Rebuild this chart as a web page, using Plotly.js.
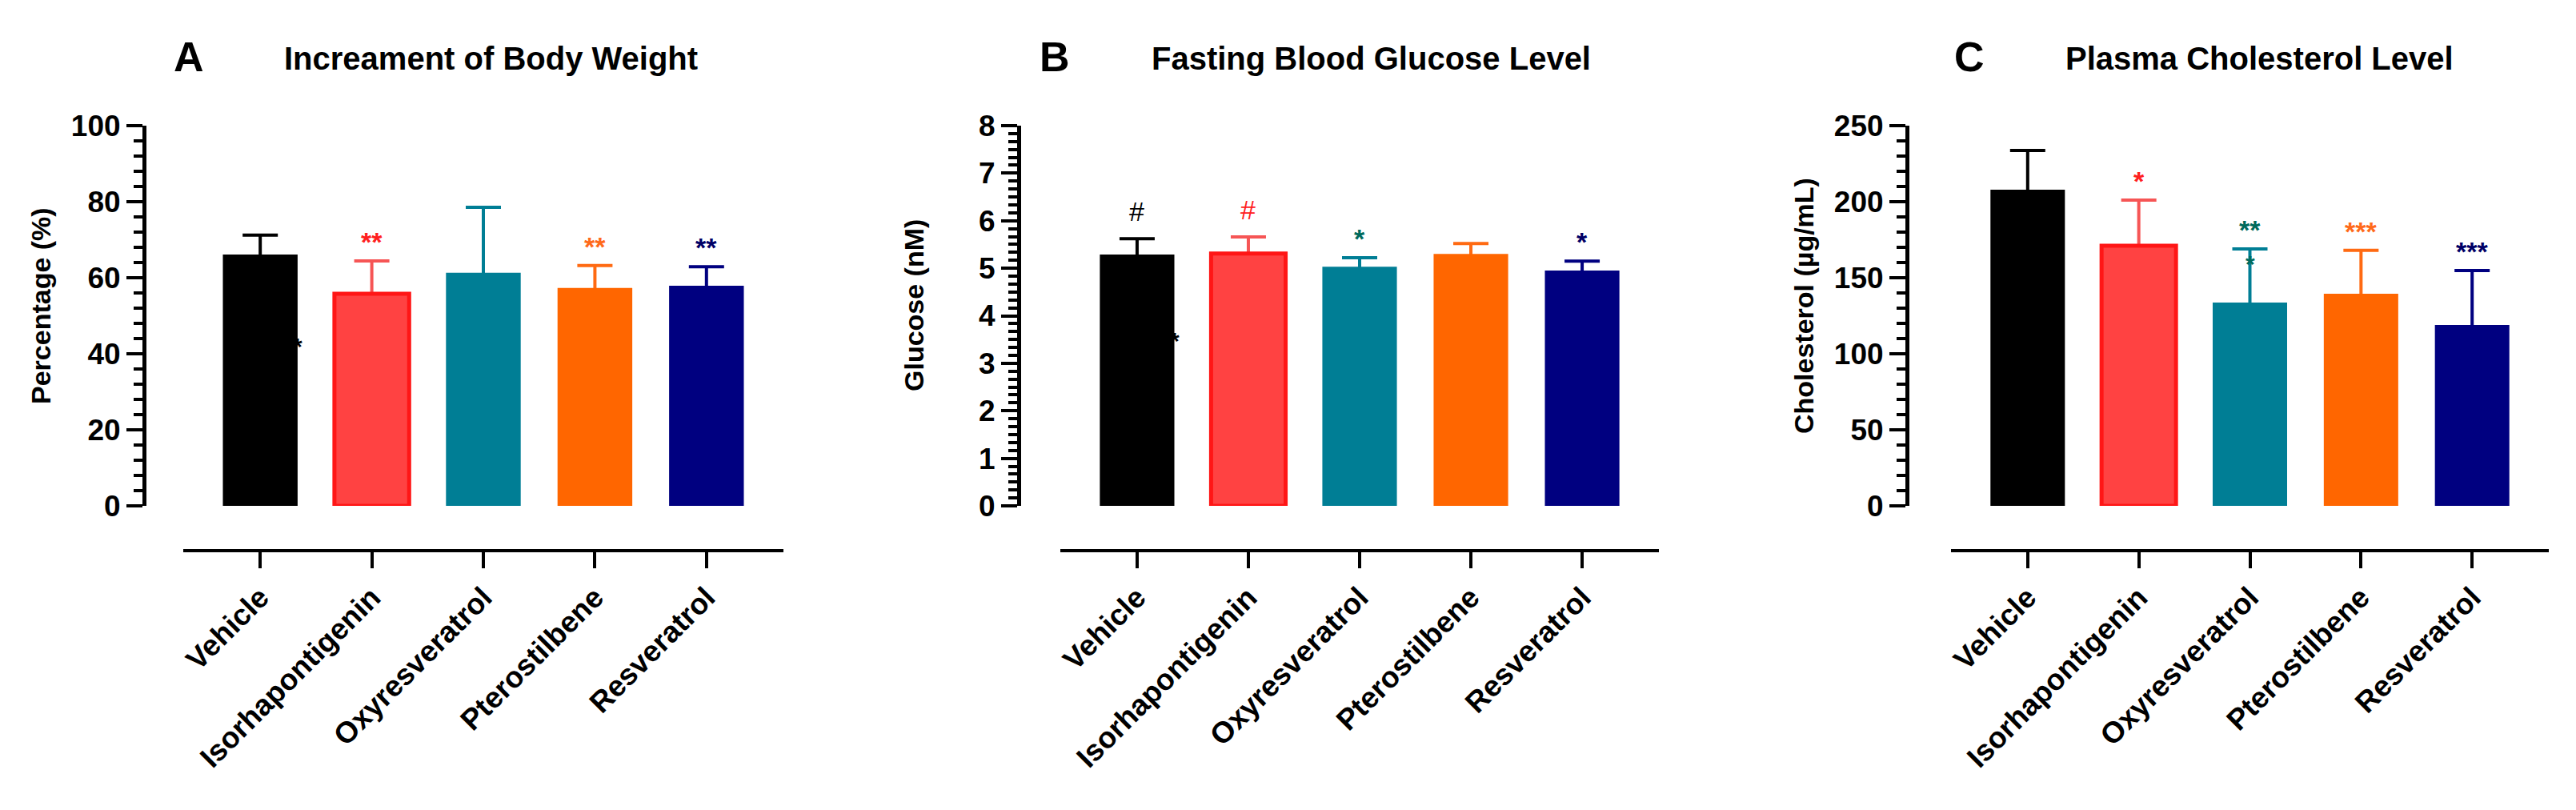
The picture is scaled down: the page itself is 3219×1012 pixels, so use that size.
<!DOCTYPE html>
<html>
<head>
<meta charset="utf-8">
<script src="https://cdn.plot.ly/plotly-3.0.1.min.js"></script>
<style>html,body{margin:0;padding:0;background:#fff;}#chart{width:3219px;height:1012px;}</style>
</head>
<body>
<div id="chart"></div>
<script>
// ---------- data ----------
const categories = ["Vehicle", "Isorhapontigenin", "Oxyresveratrol", "Pterostilbene", "Resveratrol"];

const bodyWeight    = [66.1, 55.8, 61.3, 57.3, 57.9];
const bodyWeightErr = [5.1, 8.6, 17.2, 5.9, 5.0];
const bodyWeightSig = ["", "**", "", "**", "**"];

const glucose    = [5.29, 5.31, 5.03, 5.30, 4.95];
const glucoseErr = [0.33, 0.35, 0.19, 0.22, 0.20];
const glucoseSig = ["#", "#", "*", "", "*"];

const cholesterol    = [207.9, 171.0, 133.7, 139.5, 119.0];
const cholesterolErr = [25.8, 30.0, 35.3, 28.5, 35.7];
const cholesterolSig = ["", "*", "**", "***", "***"];

const panelLetters = ["A", "B", "C"];
const panelTitles  = ["Increament of Body Weight", "Fasting Blood Glucose Level", "Plasma Cholesterol Level"];
const yTitles      = ["Percentage (%)", "Glucose (nM)", "Cholesterol (\u00b5g/mL)"];

// stray marks visible in the figure: [panel, category index, value]
const strayMarks = [[0, 0, 42.1], [1, 0, 3.47]];
const extraMarks = [[2, 2, 159]];

// ---------- styles ----------
const barFill  = ["#000000", "#FF4242", "#007E95", "#FF6600", "#000080"];
const barLine  = ["#000000", "#FF1616", "#007E95", "#FF6600", "#000080"];
const barLineW = [0, 5, 0, 0, 0];
const errColor = ["#000000", "#F65555", "#007E95", "#FF6A12", "#000080"];
const sigColor = ["#000000", "#FF2020", "#006A5C", "#FF6A1A", "#000066"];

const W = 3219, H = 1012;
const FONT = "Liberation Sans, Arial, sans-serif";
const px = v => v / W;
const py = v => 1 - v / H;

const panels = [
  {vals: bodyWeight, errs: bodyWeightErr, sig: bodyWeightSig, range: [0, 100], dtick: 20, minor: 4,
   yAxisX: 180, xDom: [229, 979], letterX: 236, titleX: 353, yTitleX: 51},
  {vals: glucose, errs: glucoseErr, sig: glucoseSig, range: [0, 8], dtick: 1, minor: 1/6,
   yAxisX: 1273, xDom: [1325, 2073], letterX: 1318, titleX: 1437, yTitleX: 1142},
  {vals: cholesterol, errs: cholesterolErr, sig: cholesterolSig, range: [0, 250], dtick: 50, minor: 10,
   yAxisX: 2383, xDom: [2438, 3185], letterX: 2461, titleX: 2579, yTitleX: 2254}
];

const yTop = 157, yBottom = 632, xAxisY = 688;

const traces = [];
const annotations = [];
const layout = {
  width: W, height: H,
  margin: {l: 0, r: 0, t: 0, b: 0},
  paper_bgcolor: "#ffffff", plot_bgcolor: "rgba(0,0,0,0)",
  showlegend: false,
  barmode: "overlay",
  font: {family: FONT, color: "#000"},
  annotations: annotations
};

panels.forEach((p, k) => {
  const sfx = k === 0 ? "" : String(k + 1);
  const xa = "x" + sfx, ya = "y" + sfx;
  // error bars first (lower half is hidden behind the bars drawn afterwards)
  categories.forEach((c, i) => {
    traces.push({
      type: "bar", xaxis: xa, yaxis: ya,
      x: [c], y: [p.vals[i]], width: 0.67,
      marker: {color: "rgba(0,0,0,0)", line: {width: 0}},
      error_y: {type: "data", symmetric: true, array: [p.errs[i]],
                color: errColor[i], thickness: 4, width: 22},
      hoverinfo: "skip"
    });
  });
  categories.forEach((c, i) => {
    traces.push({
      type: "bar", xaxis: xa, yaxis: ya,
      x: [c], y: [p.vals[i]], width: 0.67,
      marker: {color: barFill[i], line: {color: barLine[i], width: barLineW[i]}},
      hoverinfo: "skip"
    });
    if (p.sig[i]) {
      const isHash = p.sig[i].indexOf("#") >= 0;
      annotations.push({
        xref: xa, yref: ya, x: i, y: p.vals[i] + p.errs[i],
        text: p.sig[i], showarrow: false, xanchor: "center", yanchor: "bottom",
        yshift: isHash ? 13 : 3,
        font: {family: FONT, size: isHash ? 34 : 34, color: sigColor[i], weight: isHash ? "normal" : "bold"}
      });
    }
  });

  layout["xaxis" + sfx] = {
    domain: [px(p.xDom[0]), px(p.xDom[1])],
    anchor: "free", position: py(xAxisY),
    type: "category", categoryorder: "array", categoryarray: categories,
    range: [-0.69, 4.69], fixedrange: true,
    showline: true, linecolor: "#000", linewidth: 4,
    ticks: "outside", ticklen: 20, tickwidth: 4, tickcolor: "#000",
    tickangle: -45, showgrid: false, zeroline: false,
    tickfont: {family: FONT, size: 37, color: "#000", weight: "bold"}
  };
  layout["yaxis" + sfx] = {
    domain: [py(yBottom), py(yTop)],
    anchor: "free", position: px(p.yAxisX),
    range: p.range, dtick: p.dtick, tick0: 0, fixedrange: true,
    showline: true, linecolor: "#000", linewidth: 5,
    ticks: "outside", ticklen: 20, tickwidth: 4, tickcolor: "#000",
    minor: {ticks: "outside", dtick: p.minor, ticklen: 11, tickwidth: 4, tickcolor: "#000"},
    showgrid: false, zeroline: false,
    tickfont: {family: FONT, size: 37, color: "#000", weight: "bold"}
  };

  // panel letter and title
  annotations.push({
    xref: "paper", yref: "paper", x: px(p.letterX), y: py(71),
    text: panelLetters[k], showarrow: false, xanchor: "center", yanchor: "middle",
    font: {family: FONT, size: 52, color: "#000", weight: "bold"}
  });
  annotations.push({
    xref: "paper", yref: "paper", x: px(p.titleX), y: py(73),
    text: panelTitles[k], showarrow: false, xanchor: "left", yanchor: "middle",
    font: {family: FONT, size: 40, color: "#000", weight: "bold"}
  });
  // y-axis title
  annotations.push({
    xref: "paper", yref: "paper", x: px(p.yTitleX), y: py(382),
    text: yTitles[k], showarrow: false, textangle: -90, xanchor: "center", yanchor: "middle",
    font: {family: FONT, size: 34, color: "#000", weight: "bold"}
  });
});

strayMarks.forEach(m => {
  const sfx = m[0] === 0 ? "" : String(m[0] + 1);
  annotations.push({
    xref: "x" + sfx, yref: "y" + sfx, x: m[1] + 0.335, y: m[2],
    text: "*", showarrow: false, xanchor: "center", yanchor: "middle",
    font: {family: FONT, size: 30, color: "#000", weight: "bold"}
  });
});
extraMarks.forEach(m => {
  const sfx = m[0] === 0 ? "" : String(m[0] + 1);
  annotations.push({
    xref: "x" + sfx, yref: "y" + sfx, x: m[1], y: m[2],
    text: "*", showarrow: false, xanchor: "center", yanchor: "middle",
    font: {family: FONT, size: 30, color: sigColor[m[1]], weight: "bold"}
  });
});

Plotly.newPlot("chart", traces, layout, {displayModeBar: false, staticPlot: true});
</script>
</body>
</html>
